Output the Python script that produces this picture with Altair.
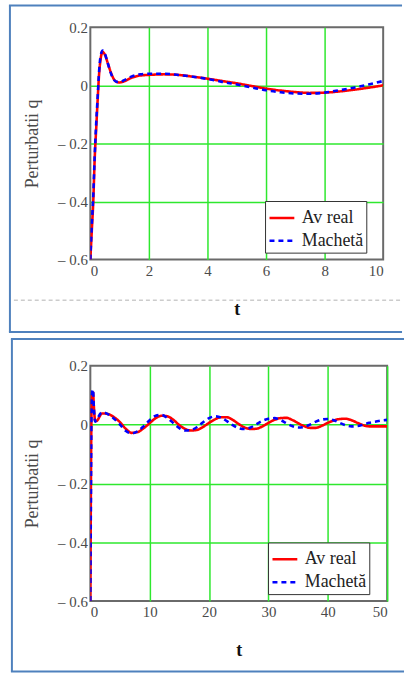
import altair as alt
import pandas as pd

SERIES = ["Av real", "Machetă"]
COLORS = ["#ff0000", "#0000ff"]

# ---- top panel (t = 0..10)
t1 = [0, 0.05, 0.1, 0.15, 0.2, 0.25, 0.3, 0.35, 0.42, 0.5, 0.6, 0.7, 0.8, 0.9, 1.0,
      1.2, 1.4, 1.7, 2.0, 2.5, 3.0, 3.5, 4.0, 4.5, 5.0, 5.5, 6.0, 6.5, 7.0, 7.5,
      8.0, 8.5, 9.0, 9.5, 10.0]
real1 = [-0.6, -0.5, -0.4, -0.25, -0.15, -0.05, 0.04, 0.09, 0.115, 0.105, 0.075,
         0.045, 0.022, 0.012, 0.01, 0.016, 0.026, 0.034, 0.036, 0.038, 0.036, 0.03,
         0.023, 0.015, 0.007, -0.002, -0.011, -0.018, -0.023, -0.026, -0.025,
         -0.021, -0.015, -0.008, 0.0]
mach1 = [-0.6, -0.48, -0.38, -0.24, -0.13, -0.04, 0.05, 0.1, 0.12, 0.108, 0.075,
         0.042, 0.02, 0.012, 0.012, 0.02, 0.03, 0.038, 0.04, 0.04, 0.036, 0.03,
         0.022, 0.012, 0.003, -0.007, -0.017, -0.024, -0.028, -0.029, -0.025,
         -0.017, -0.008, 0.003, 0.015]

# ---- bottom panel (t = 0..50)
t2 = [0, 0.1, 0.2, 0.3, 0.45, 0.6, 0.8, 1,
      2, 3, 4, 5, 6, 7, 8, 9, 10,
      11, 12, 13, 14, 15, 16, 17, 18, 19, 20,
      21, 22, 23, 24, 25, 26, 27, 28, 29, 30,
      31, 32, 33, 34, 35, 36, 37, 38, 39, 40,
      41, 42, 43, 44, 45, 46, 47, 48, 49, 50]
real2 = [-0.6, -0.2, 0.05, 0.1, 0.11, 0.06, 0.015, 0.012,
         0.038, 0.036, 0.025, 0.008, -0.015, -0.028, -0.025, -0.012, 0.005,
         0.022, 0.03, 0.028, 0.016, -0.002, -0.015, -0.02, -0.018, -0.008, 0.006,
         0.018, 0.025, 0.025, 0.016, 0.002, -0.01, -0.015, -0.014, -0.006, 0.006,
         0.016, 0.022, 0.023, 0.016, 0.005, -0.005, -0.011, -0.011, -0.004, 0.006,
         0.014, 0.019, 0.02, 0.015, 0.006, -0.002, -0.006, -0.006, -0.006, -0.006]
mach2 = [-0.6, -0.25, 0.06, 0.11, 0.12, 0.055, 0.01, 0.015,
         0.042, 0.035, 0.02, 0.0, -0.022, -0.03, -0.022, -0.005, 0.015,
         0.03, 0.033, 0.022, 0.005, -0.012, -0.02, -0.018, -0.008, 0.008, 0.022,
         0.028, 0.024, 0.012, -0.002, -0.012, -0.015, -0.01, 0.002, 0.013, 0.02,
         0.022, 0.016, 0.005, -0.005, -0.01, -0.008, 0.0, 0.01, 0.017, 0.019,
         0.015, 0.006, -0.002, -0.006, -0.005, 0.0, 0.006, 0.01, 0.014, 0.016]

x_ticks1 = [0, 2, 4, 6, 8, 10]
x_ticks2 = [0, 10, 20, 30, 40, 50]
y_ticks = [-0.6, -0.4, -0.2, 0, 0.2]

FONT = "Liberation Serif"
Y_LABEL = ("datum.value < 0 ? '\u2013 ' + format(-datum.value, '.1f') : "
           "(datum.value == 0 ? '0' : format(datum.value, '.1f'))")
FRAME = "#4f81bd"


def hedge(x1, x2, y, color=FRAME, width=2, dash=None):
    kw = dict(stroke=color, strokeWidth=width)
    if dash is not None:
        kw["strokeDash"] = dash
    return alt.Chart(alt.Data(values=[{"k": 1}])).mark_rule(**kw).encode(
        x=alt.value(x1), x2=alt.value(x2), y=alt.value(y), y2=alt.value(y))


def vbar(x1, x2, y1, y2, color=FRAME):
    return alt.Chart(alt.Data(values=[{"k": 1}])).mark_rect(fill=color, strokeWidth=0).encode(
        x=alt.value(x1), x2=alt.value(x2), y=alt.value(y1), y2=alt.value(y2))


def panel(t, real, mach, xmax, xticks, width, height, frame, sep, leg_xy, x_hide):
    df = pd.DataFrame({
        "t": list(t) + list(t),
        "q": list(real) + list(mach),
        "series": [SERIES[0]] * len(t) + [SERIES[1]] * len(t),
    })
    legend = alt.Legend(
        title=None, orient="none", legendX=leg_xy[0], legendY=leg_xy[1],
        symbolType="stroke", symbolSize=625, symbolStrokeWidth=2.5,
        labelFont=FONT, labelFontSize=18, labelColor="#222222",
        strokeColor="#333333", fillColor="white", padding=3,
        rowPadding=-4, labelOffset=6,
    )
    lines = alt.Chart(df).mark_line(strokeWidth=2.6, interpolate="monotone", clip=True).encode(
        x=alt.X("t:Q", scale=alt.Scale(domain=[0, xmax], nice=False, zero=False),
                axis=alt.Axis(values=xticks, title="t", format="d",
                              gridOpacity={"condition": {"test": x_hide, "value": 0}, "value": 1})),
        y=alt.Y("q:Q", scale=alt.Scale(domain=[-0.6, 0.2], nice=False),
                axis=alt.Axis(values=y_ticks, labelExpr=Y_LABEL, title="Perturbatii q",
                              gridOpacity={"condition": {"test": "datum.value < -0.5 || datum.value > 0.1",
                                                         "value": 0}, "value": 1})),
        color=alt.Color("series:N", scale=alt.Scale(domain=SERIES, range=COLORS), legend=legend),
        strokeDash=alt.StrokeDash("series:N", scale=alt.Scale(domain=SERIES, range=[[1, 0], [5, 4]]),
                                  legend=legend),
    )
    fx1, fx2, fy1, fy2 = frame
    layers = [
        hedge(fx1 - 1, fx2, fy1),
        hedge(fx1 - 1, fx2, fy2),
        vbar(fx1 - 1, fx1 + 1, fy1, fy2),
    ]
    if sep is not None:
        layers.append(hedge(sep[0], sep[1], sep[2], color="#cccccc", width=1.5, dash=[4, 3]))
    layers.append(lines)
    return alt.layer(*layers).properties(width=width, height=height)


# top plot area origin at (90, 25); bottom plot area origin at (88, 366)
top = panel(t1, real1, mach1, 10, x_ticks1, 295, 234,
            frame=(-81, 314, -22, 307), sep=(-77, 314, 275), leg_xy=(176, 175),
            x_hide="datum.value < 0.5 || datum.value > 9.5")
bottom = panel(t2, real2, mach2, 50, x_ticks2, 299, 237,
               frame=(-79, 316, -27, 308), sep=None, leg_xy=(179, 178),
               x_hide="datum.value < 1")

chart = alt.vconcat(top, bottom, spacing=3).resolve_scale(
    color="independent", strokeDash="independent"
).resolve_legend(
    color="independent", strokeDash="independent"
).properties(
    padding={"left": 7, "top": 1, "right": 0, "bottom": 0},
    background="white",
).configure_view(
    stroke="#6a6a6a", strokeWidth=2
).configure_axis(
    grid=True, gridColor="#2ee82e", gridWidth=1.5,
    domain=False, ticks=False,
    labelFont=FONT, labelFontSize=15, labelColor="#4a4a4a", labelPadding=3,
    titleFont=FONT,
).configure_axisX(
    titleFontSize=18, titleFontWeight="bold", titleColor="#111111", titlePadding=22,
    labelPadding=4,
).configure_axisY(
    titleFontSize=18, titleFontWeight="normal", titleColor="#4a4a4a", titlePadding=16,
)

chart.save("out.html", embed_options={"renderer": "svg", "actions": False})
